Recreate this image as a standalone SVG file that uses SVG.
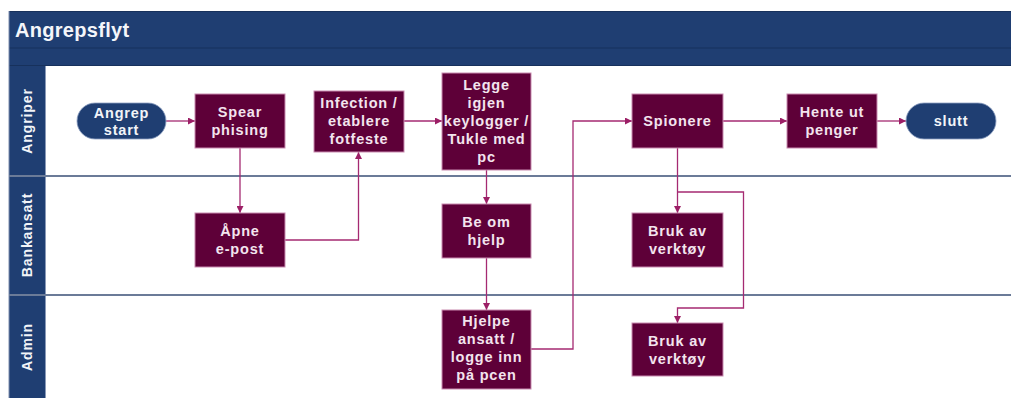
<svg xmlns="http://www.w3.org/2000/svg" width="1011" height="398" viewBox="0 0 1011 398">
  <style>
    .band { fill: #1F3E72; }
    .rule { stroke: #17315C; stroke-width: 1.2; fill: none; }
    .lane-sep { stroke: #6B7B98; stroke-width: 2.2; fill: none; }
    .lane-label { font-family: "Liberation Sans", Arial, sans-serif; font-weight: bold; font-size: 14px; letter-spacing: 0.9px; fill: #F2F4F8; text-anchor: middle; }
    .title { font-family: "Liberation Sans", Arial, sans-serif; font-weight: bold; font-size: 20px; letter-spacing: 0.3px; fill: #F4F6FA; }
    .step rect { fill: #5E0038; stroke: #C98BB0; stroke-width: 1; }
    .terminal rect { fill: #1F3E72; stroke: #8DA0C2; stroke-width: 0.8; }
    .step text, .terminal text { font-family: "Liberation Sans", Arial, sans-serif; font-weight: bold; font-size: 14.5px; letter-spacing: 0.8px; fill: #F3E4EE; text-anchor: middle; }
    .terminal text { fill: #F2F4F8; }
    .conn { stroke: #A52A72; stroke-width: 1.3; fill: none; marker-end: url(#arrow); }
  </style>
  <defs>
    <marker id="arrow" viewBox="0 0 10 10" refX="10" refY="5" markerWidth="7" markerHeight="7" markerUnits="userSpaceOnUse" orient="auto">
      <path d="M0,0 L10,5 L0,10 z" fill="#9C1F66"/>
    </marker>
  </defs>

  <rect width="1011" height="398" fill="#FFFFFF"/>

  <!-- pool frame -->
  <g id="pool">
    <rect class="band" x="9" y="11" width="1002" height="55"/>
    <line class="rule" x1="9" y1="11.5" x2="1011" y2="11.5"/>
    <line class="rule" x1="9" y1="48" x2="1011" y2="48"/>
    <line class="rule" x1="9" y1="65.5" x2="1011" y2="65.5"/>
    <text class="title" x="15" y="36.5">Angrepsflyt</text>
    <rect class="band" x="9" y="66" width="36" height="332"/>
    <line x1="45.5" y1="66" x2="45.5" y2="398" stroke="#8A9AB8" stroke-width="1"/>
    <line x1="9" y1="11" x2="9" y2="398" stroke="#7E8EAE" stroke-width="1"/>
  </g>

  <!-- swimlanes -->
  <g id="lanes">
    <line class="lane-sep" x1="9" y1="176" x2="1011" y2="176"/>
    <line class="lane-sep" x1="9" y1="295" x2="1011" y2="295"/>
    <text class="lane-label" transform="translate(32 121) rotate(-90)">Angriper</text>
    <text class="lane-label" transform="translate(32 235) rotate(-90)">Bankansatt</text>
    <text class="lane-label" transform="translate(32 347) rotate(-90)">Admin</text>
  </g>

  <!-- connectors -->
  <g id="connectors">
    <path class="conn" d="M166,121 H195"/>
    <path class="conn" d="M240,148 V213"/>
    <path class="conn" d="M285,240 H358.5 V152"/>
    <path class="conn" d="M404,121 H442"/>
    <path class="conn" d="M486.5,170 V204"/>
    <path class="conn" d="M486.5,258 V310"/>
    <path class="conn" d="M531,349 H573 V121 H632"/>
    <path class="conn" d="M723,121 H787"/>
    <path class="conn" d="M877,121 H906"/>
    <path class="conn" d="M677.5,148 V213"/>
    <path class="conn" d="M677.5,192 H743.5 V308 H677.5 V323"/>
  </g>

  <!-- nodes -->
  <g id="node-start" class="terminal">
    <rect x="77" y="103" width="89" height="36" rx="18" ry="18"/>
    <text x="121.5" y="117.5">Angrep</text>
    <text x="121.5" y="135">start</text>
  </g>
  <g id="node-spear" class="step">
    <rect x="195" y="94" width="90" height="54"/>
    <text x="240" y="117">Spear</text>
    <text x="240" y="135">phising</text>
  </g>
  <g id="node-open-mail" class="step">
    <rect x="195" y="213" width="90" height="54"/>
    <text x="240" y="236">Åpne</text>
    <text x="240" y="254">e-post</text>
  </g>
  <g id="node-infection" class="step">
    <rect x="314" y="91" width="90" height="61"/>
    <text x="359" y="108">Infection /</text>
    <text x="359" y="126">etablere</text>
    <text x="359" y="144">fotfeste</text>
  </g>
  <g id="node-keylogger" class="step">
    <rect x="442" y="73" width="89" height="97"/>
    <text x="486.5" y="89.5">Legge</text>
    <text x="486.5" y="107.5">igjen</text>
    <text x="486.5" y="125.5">keylogger /</text>
    <text x="486.5" y="143.5">Tukle med</text>
    <text x="486.5" y="161.5">pc</text>
  </g>
  <g id="node-ask-help" class="step">
    <rect x="442" y="204" width="89" height="54"/>
    <text x="486.5" y="227">Be om</text>
    <text x="486.5" y="245">hjelp</text>
  </g>
  <g id="node-admin-help" class="step">
    <rect x="442" y="310" width="89" height="79"/>
    <text x="486.5" y="326">Hjelpe</text>
    <text x="486.5" y="344">ansatt /</text>
    <text x="486.5" y="362">logge inn</text>
    <text x="486.5" y="380">på pcen</text>
  </g>
  <g id="node-spy" class="step">
    <rect x="632" y="94" width="91" height="54"/>
    <text x="677.5" y="126">Spionere</text>
  </g>
  <g id="node-money" class="step">
    <rect x="787" y="94" width="90" height="54"/>
    <text x="832" y="117">Hente ut</text>
    <text x="832" y="135">penger</text>
  </g>
  <g id="node-end" class="terminal">
    <rect x="906" y="103" width="90" height="36" rx="18" ry="18"/>
    <text x="951" y="126">slutt</text>
  </g>
  <g id="node-tools-bank" class="step">
    <rect x="632" y="213" width="91" height="54"/>
    <text x="677.5" y="236">Bruk av</text>
    <text x="677.5" y="254">verktøy</text>
  </g>
  <g id="node-tools-admin" class="step">
    <rect x="632" y="323" width="91" height="53"/>
    <text x="677.5" y="345.5">Bruk av</text>
    <text x="677.5" y="363.5">verktøy</text>
  </g>
</svg>
